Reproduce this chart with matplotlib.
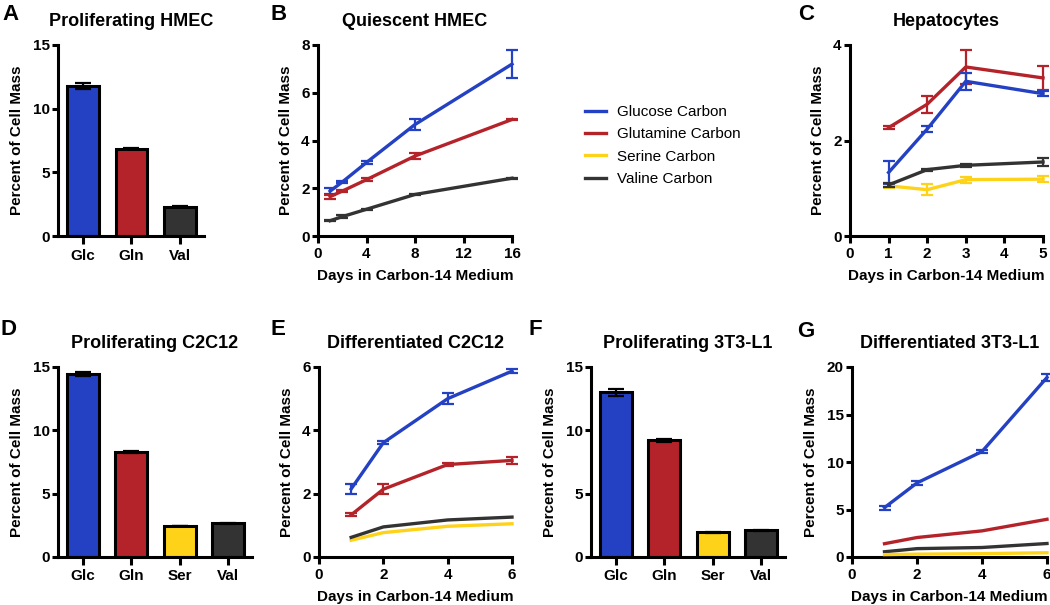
import numpy as np
import matplotlib
matplotlib.use('Agg')
import matplotlib.pyplot as plt
from matplotlib.lines import Line2D

plt.rcParams['font.family'] = ['Liberation Sans', 'DejaVu Sans']
plt.rcParams['font.weight'] = 'bold'
plt.rcParams['axes.labelweight'] = 'bold'
plt.rcParams['axes.titleweight'] = 'bold'

BLUE = '#2341C2'
RED = '#B5232A'
YELLOW = '#FFD21A'
GRAY = '#333333'

# A: proliferating HMEC (bars)
a_cats = ['Glc', 'Gln', 'Val']
a_vals = [11.8, 6.85, 2.3]
a_err = [0.25, 0.05, 0.05]

# B: quiescent HMEC
b_days = [1, 2, 4, 8, 16]
b_glc = [1.88, 2.26, 3.08, 4.67, 7.2]
b_glc_err = [0.12, 0.06, 0.08, 0.25, 0.57]
b_gln = [1.65, 1.88, 2.36, 3.35, 4.88]
b_gln_err = [0.08, 0.03, 0.05, 0.12, 0.03]
b_val = [0.64, 0.81, 1.12, 1.74, 2.42]
b_val_err = [0.03, 0.05, 0.03, 0.03, 0.03]

# C: hepatocytes
c_days = [1, 2, 3, 5]
c_glc = [1.33, 2.24, 3.24, 2.98]
c_glc_err = [0.24, 0.06, 0.18, 0.05]
c_gln = [2.27, 2.76, 3.54, 3.31]
c_gln_err = [0.03, 0.18, 0.36, 0.26]
c_ser = [1.05, 0.97, 1.18, 1.19]
c_ser_err = [0.05, 0.12, 0.06, 0.06]
c_val = [1.07, 1.39, 1.48, 1.55]
c_val_err = [0.05, 0.02, 0.03, 0.08]

# D: proliferating C2C12 (bars)
d_cats = ['Glc', 'Gln', 'Ser', 'Val']
d_vals = [14.45, 8.3, 2.45, 2.65]
d_err = [0.15, 0.08, 0.03, 0.03]

# E: differentiated C2C12
e_days = [1, 2, 4, 6]
e_glc = [2.15, 3.61, 5.0, 5.87]
e_glc_err = [0.15, 0.05, 0.18, 0.07]
e_gln = [1.33, 2.14, 2.92, 3.05]
e_gln_err = [0.05, 0.15, 0.04, 0.1]
e_ser = [0.53, 0.77, 0.97, 1.05]
e_val = [0.62, 0.95, 1.17, 1.26]

# F: proliferating 3T3-L1 (bars)
f_cats = ['Glc', 'Gln', 'Ser', 'Val']
f_vals = [13.0, 9.2, 1.95, 2.1]
f_err = [0.25, 0.1, 0.03, 0.05]

# G: differentiated 3T3-L1
g_days = [1, 2, 4, 6]
g_glc = [5.2, 7.8, 11.1, 18.9]
g_glc_err = [0.2, 0.2, 0.15, 0.35]
g_gln = [1.4, 2.05, 2.75, 3.97]
g_ser = [0.25, 0.3, 0.35, 0.45]
g_val = [0.55, 0.88, 1.0, 1.42]

W, H = 1050, 605
fig = plt.figure(figsize=(W / 100, H / 100), dpi=100)


def new_axes(x0, x1, ytop, ybot):
    ax = fig.add_axes([x0 / W, 1 - ybot / H, (x1 - x0) / W, (ybot - ytop) / H])
    for s in ['top', 'right']:
        ax.spines[s].set_visible(False)
    for s in ['left', 'bottom']:
        ax.spines[s].set_linewidth(2.2)
    ax.tick_params(width=2.2, length=4, labelsize=11, pad=2)
    ax.set_ylabel('Percent of Cell Mass', fontsize=11, labelpad=6)
    return ax


def bar_panel(ax, cats, vals, err, title, ymax, yticks):
    colors = [BLUE, RED, YELLOW, GRAY] if len(cats) == 4 else [BLUE, RED, GRAY]
    x = np.arange(len(cats))
    ax.bar(x, vals, width=0.66, color=colors, edgecolor='black', linewidth=2.2, zorder=2)
    ax.errorbar(x, vals, yerr=err, fmt='none', ecolor='black', elinewidth=1.6,
                capsize=5.5, capthick=1.6, zorder=3)
    ax.set_xticks(x)
    ax.set_xticklabels(cats)
    ax.set_xlim(-0.52, len(cats) - 0.5)
    ax.set_ylim(0, ymax)
    ax.set_yticks(yticks)
    ax.tick_params(axis='x', length=6, pad=3)
    ax.set_title(title, fontsize=13, pad=14)


def line(ax, days, vals, color, err=None):
    ax.plot(days, vals, color=color, linewidth=2.4, clip_on=False, zorder=3)
    if err is not None:
        ax.errorbar(days, vals, yerr=err, fmt='none', ecolor=color, elinewidth=1.6,
                    capsize=4, capthick=1.6, clip_on=False, zorder=3)


def line_panel(ax, title, xmax, xticks, ymax, yticks):
    ax.set_xlim(0, xmax)
    ax.set_xticks(xticks)
    ax.set_ylim(0, ymax)
    ax.set_yticks(yticks)
    ax.tick_params(axis='x', length=5, pad=3)
    ax.set_xlabel('Days in Carbon-14 Medium', fontsize=11, labelpad=6)
    ax.set_title(title, fontsize=13, pad=14)


# row 1
axA = new_axes(58, 204, 45, 236)
bar_panel(axA, a_cats, a_vals, a_err, 'Proliferating HMEC', 15, [0, 5, 10, 15])

axB = new_axes(318, 512, 45, 236)
line(axB, b_days, b_glc, BLUE, b_glc_err)
line(axB, b_days, b_gln, RED, b_gln_err)
line(axB, b_days, b_val, GRAY, b_val_err)
line_panel(axB, 'Quiescent HMEC', 16, [0, 4, 8, 12, 16], 8, [0, 2, 4, 6, 8])

axC = new_axes(850, 1043, 45, 236)
line(axC, c_days, c_gln, RED, c_gln_err)
line(axC, c_days, c_glc, BLUE, c_glc_err)
line(axC, c_days, c_ser, YELLOW, c_ser_err)
line(axC, c_days, c_val, GRAY, c_val_err)
line_panel(axC, 'Hepatocytes', 5, [0, 1, 2, 3, 4, 5], 4, [0, 2, 4])

# row 2
axD = new_axes(58, 252, 367, 557)
bar_panel(axD, d_cats, d_vals, d_err, 'Proliferating C2C12', 15, [0, 5, 10, 15])

axE = new_axes(319, 512, 367, 557)
line(axE, e_days, e_glc, BLUE, e_glc_err)
line(axE, e_days, e_gln, RED, e_gln_err)
line(axE, e_days, e_ser, YELLOW)
line(axE, e_days, e_val, GRAY)
line_panel(axE, 'Differentiated C2C12', 6, [0, 2, 4, 6], 6, [0, 2, 4, 6])

axF = new_axes(591, 785, 367, 557)
bar_panel(axF, f_cats, f_vals, f_err, 'Proliferating 3T3-L1', 15, [0, 5, 10, 15])

axG = new_axes(852, 1047, 367, 557)
line(axG, g_days, g_glc, BLUE, g_glc_err)
line(axG, g_days, g_gln, RED)
line(axG, g_days, g_val, GRAY)
line(axG, g_days, g_ser, YELLOW)
line_panel(axG, 'Differentiated 3T3-L1', 6, [0, 2, 4, 6], 20, [0, 5, 10, 15, 20])

# panel letters
letters = [('A', 2, 20), ('B', 270, 20), ('C', 798, 20),
           ('D', 1, 335), ('E', 270, 335), ('F', 528, 335), ('G', 797, 337)]
for s, px, py in letters:
    fig.text(px / W, 1 - py / H, s, fontsize=16, fontweight='bold', va='baseline')

# legend
handles = [Line2D([], [], color=c, linewidth=2.4) for c in [BLUE, RED, YELLOW, GRAY]]
labels = ['Glucose Carbon', 'Glutamine Carbon', 'Serine Carbon', 'Valine Carbon']
fig.legend(handles, labels, loc='upper left', bbox_to_anchor=(585 / W, 1 - 105 / H),
           frameon=False, borderpad=0, borderaxespad=0, handlelength=1.4,
           handletextpad=0.7, labelspacing=0.55, prop={'weight': 'normal', 'size': 11})

fig.savefig('out.png', dpi=100)
